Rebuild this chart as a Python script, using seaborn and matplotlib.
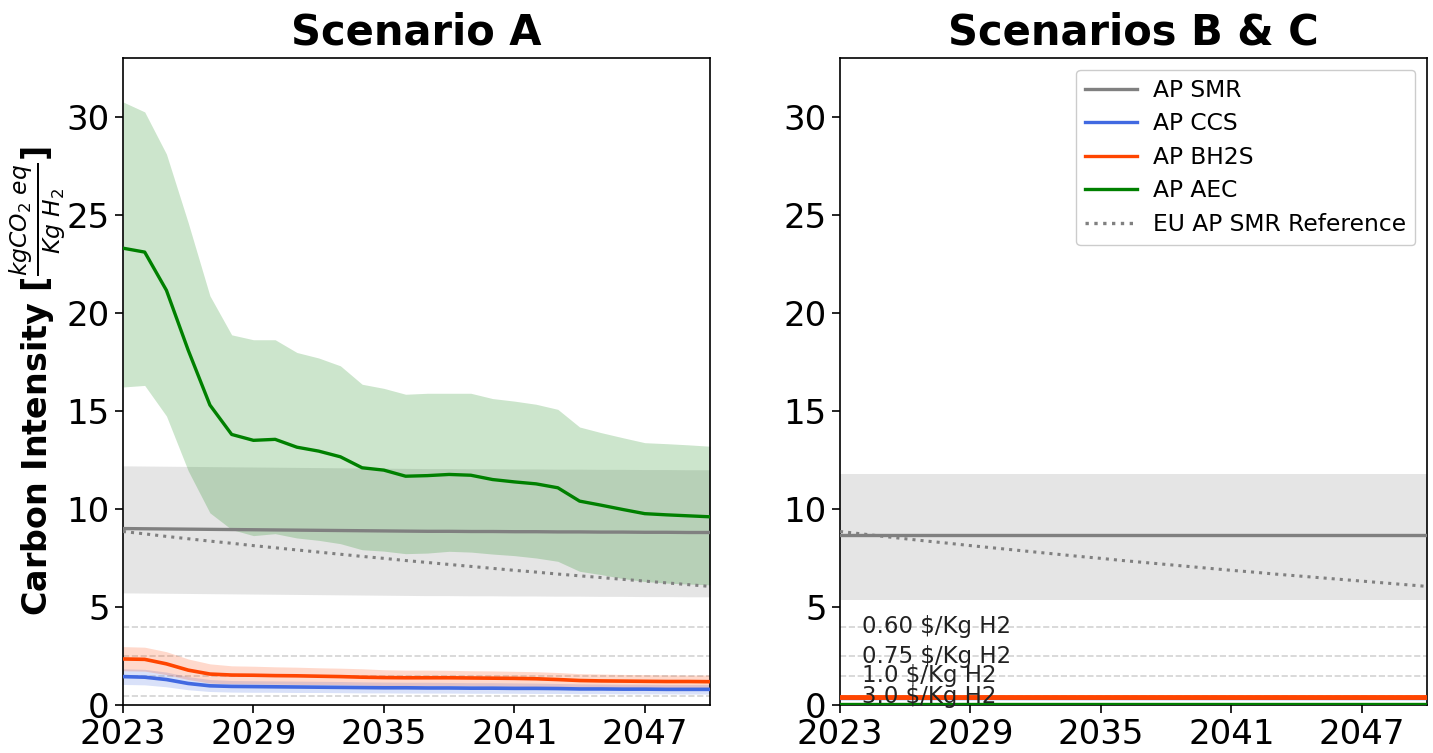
import matplotlib
matplotlib.use("Agg")
import matplotlib.pyplot as plt
import seaborn as sns
import pandas as pd

years = list(range(2023, 2051))

# ---- Scenario A ----
smr_a = [9.00, 8.99, 8.98, 8.97, 8.96, 8.95, 8.94, 8.93, 8.92, 8.91, 8.90, 8.89, 8.88, 8.87,
         8.86, 8.86, 8.85, 8.85, 8.84, 8.84, 8.83, 8.83, 8.82, 8.82, 8.81, 8.81, 8.80, 8.80]
smr_a_hi = [12.20, 12.19, 12.18, 12.17, 12.16, 12.15, 12.14, 12.13, 12.12, 12.11, 12.10, 12.09, 12.08, 12.07,
            12.06, 12.06, 12.05, 12.05, 12.04, 12.04, 12.03, 12.03, 12.02, 12.02, 12.01, 12.01, 12.00, 12.00]
smr_a_lo = [5.72, 5.71, 5.70, 5.69, 5.68, 5.67, 5.66, 5.65, 5.64, 5.63, 5.62, 5.61, 5.60, 5.59,
            5.58, 5.58, 5.57, 5.57, 5.56, 5.56, 5.55, 5.55, 5.54, 5.54, 5.53, 5.53, 5.52, 5.52]

aec_a = [23.30, 23.10, 21.15, 18.10, 15.30, 13.80, 13.50, 13.55, 13.15, 12.95, 12.66, 12.10, 11.98, 11.67,
         11.70, 11.76, 11.72, 11.50, 11.38, 11.28, 11.08, 10.40, 10.19, 9.97, 9.76, 9.70, 9.65, 9.60]
aec_a_hi = [30.76, 30.25, 28.10, 24.60, 20.87, 18.88, 18.63, 18.63, 17.98, 17.70, 17.30, 16.36, 16.15, 15.85,
            15.90, 15.90, 15.90, 15.63, 15.50, 15.34, 15.08, 14.18, 13.89, 13.63, 13.38, 13.33, 13.27, 13.20]
aec_a_lo = [16.22, 16.30, 14.74, 11.95, 9.80, 8.95, 8.64, 8.74, 8.52, 8.40, 8.23, 7.92, 7.85, 7.72,
            7.75, 7.84, 7.80, 7.70, 7.62, 7.50, 7.33, 6.82, 6.65, 6.45, 6.30, 6.22, 6.17, 6.13]

bh2s_a = [2.35, 2.33, 2.10, 1.78, 1.58, 1.53, 1.52, 1.50, 1.49, 1.47, 1.45, 1.42, 1.40, 1.39,
          1.39, 1.39, 1.38, 1.37, 1.36, 1.34, 1.30, 1.25, 1.23, 1.22, 1.21, 1.20, 1.20, 1.19]
bh2s_a_hi = [2.98, 2.95, 2.72, 2.35, 2.10, 2.00, 1.98, 1.95, 1.93, 1.90, 1.88, 1.85, 1.80, 1.78,
             1.78, 1.77, 1.75, 1.74, 1.72, 1.70, 1.66, 1.60, 1.58, 1.56, 1.55, 1.54, 1.53, 1.53]
bh2s_a_lo = [1.75, 1.73, 1.55, 1.30, 1.12, 1.08, 1.07, 1.06, 1.05, 1.04, 1.03, 1.01, 0.99, 0.98,
             0.98, 0.98, 0.97, 0.96, 0.95, 0.94, 0.92, 0.88, 0.87, 0.86, 0.86, 0.85, 0.85, 0.85]

ccs_a = [1.45, 1.42, 1.30, 1.10, 0.98, 0.95, 0.94, 0.93, 0.92, 0.91, 0.90, 0.89, 0.88, 0.88,
         0.87, 0.87, 0.86, 0.86, 0.85, 0.85, 0.84, 0.82, 0.82, 0.81, 0.81, 0.80, 0.80, 0.80]
ccs_a_hi = [1.85, 1.82, 1.68, 1.45, 1.30, 1.25, 1.24, 1.23, 1.22, 1.21, 1.20, 1.18, 1.17, 1.16,
            1.16, 1.15, 1.14, 1.14, 1.13, 1.12, 1.10, 1.08, 1.07, 1.06, 1.06, 1.05, 1.05, 1.05]
ccs_a_lo = [1.05, 1.03, 0.93, 0.78, 0.69, 0.66, 0.65, 0.65, 0.64, 0.64, 0.63, 0.62, 0.62, 0.61,
            0.61, 0.61, 0.60, 0.60, 0.60, 0.59, 0.59, 0.58, 0.58, 0.57, 0.57, 0.57, 0.56, 0.56]

eu_ref = [8.85, 8.73, 8.60, 8.48, 8.36, 8.25, 8.13, 8.02, 7.91, 7.80, 7.69, 7.58, 7.48, 7.37,
          7.27, 7.17, 7.07, 6.97, 6.87, 6.78, 6.68, 6.59, 6.50, 6.41, 6.32, 6.23, 6.14, 6.05]

# ---- Scenarios B & C (flat lines) ----
smr_b = [8.65] * len(years)
smr_b_hi = [11.80] * len(years)
smr_b_lo = [5.38] * len(years)
ccs_b = [0.36] * len(years)
bh2s_b = [0.40] * len(years)
bh2s_b_hi = [0.46] * len(years)
bh2s_b_lo = [0.34] * len(years)
aec_b = [0.03] * len(years)

# price thresholds
price_levels = [4.0, 2.5, 1.5, 0.45]
price_labels = ["0.60 \\$/Kg H2", "0.75 \\$/Kg H2", "1.0 \\$/Kg H2", "3.0 \\$/Kg H2"]

xticks = [2023, 2029, 2035, 2041, 2047]
yticks = [0, 5, 10, 15, 20, 25, 30]

c_smr, c_ccs, c_bh2s, c_aec = "gray", "royalblue", "orangered", "green"

fig = plt.figure(figsize=(14.33, 7.53), dpi=100)
axA = fig.add_axes([0.0858, 0.0637, 0.4097, 0.8593])
axB = fig.add_axes([0.5862, 0.0637, 0.4097, 0.8593])

def style_axis(ax, title):
    ax.set_xlim(2023, 2050)
    ax.set_ylim(0, 33)
    ax.set_xticks(xticks)
    ax.set_xticklabels([str(t) for t in xticks])
    ax.set_yticks(yticks)
    ax.tick_params(axis="both", labelsize=24.5, length=6, width=1.2)
    ax.set_title(title, fontsize=30, fontweight="bold", pad=10)
    ax.set_xlabel("")
    for s in ax.spines.values():
        s.set_color("black")
        s.set_linewidth(1.2)

for lvl in price_levels:
    for ax in (axA, axB):
        ax.axhline(lvl, color="lightgray", linestyle="--", linewidth=1.2, zorder=1)

# Scenario A bands
axA.fill_between(years, smr_a_lo, smr_a_hi, color=c_smr, alpha=0.2, linewidth=0, zorder=2)
axA.fill_between(years, aec_a_lo, aec_a_hi, color=c_aec, alpha=0.2, linewidth=0, zorder=2)
axA.fill_between(years, ccs_a_lo, ccs_a_hi, color=c_ccs, alpha=0.2, linewidth=0, zorder=2)
axA.fill_between(years, bh2s_a_lo, bh2s_a_hi, color=c_bh2s, alpha=0.2, linewidth=0, zorder=2)

sns.lineplot(x=years, y=smr_a, ax=axA, color=c_smr, linewidth=2.4, zorder=3)
sns.lineplot(x=years, y=ccs_a, ax=axA, color=c_ccs, linewidth=2.6, zorder=3)
sns.lineplot(x=years, y=bh2s_a, ax=axA, color=c_bh2s, linewidth=2.6, zorder=3)
sns.lineplot(x=years, y=aec_a, ax=axA, color=c_aec, linewidth=2.4, zorder=3)
sns.lineplot(x=years, y=eu_ref, ax=axA, color=c_smr, linewidth=2.2, linestyle=":", zorder=3)

# Scenario B & C
axB.fill_between(years, smr_b_lo, smr_b_hi, color=c_smr, alpha=0.2, linewidth=0, zorder=2)
axB.fill_between(years, bh2s_b_lo, bh2s_b_hi, color=c_bh2s, alpha=0.2, linewidth=0, zorder=2)
sns.lineplot(x=years, y=smr_b, ax=axB, color=c_smr, linewidth=2.4, label="AP SMR", zorder=3)
sns.lineplot(x=years, y=ccs_b, ax=axB, color=c_ccs, linewidth=2.4, label="AP CCS", zorder=3)
sns.lineplot(x=years, y=bh2s_b, ax=axB, color=c_bh2s, linewidth=3.5, label="AP BH2S", zorder=3)
sns.lineplot(x=years, y=aec_b, ax=axB, color=c_aec, linewidth=2.4, label="AP AEC", zorder=3)
sns.lineplot(x=years, y=eu_ref, ax=axB, color=c_smr, linewidth=2.2, linestyle=":",
             label="EU AP SMR Reference", zorder=3)

for lvl, lab in zip(price_levels, price_labels):
    axB.text(2024, lvl, lab, fontsize=16.5, va="center", ha="left", color="#222222", zorder=4)

style_axis(axA, "Scenario A")
style_axis(axB, "Scenarios B & C")

axA.set_ylabel(r"Carbon Intensity [$\frac{kgCO_2\ eq}{Kg\ H_2}$]", fontsize=24,
               fontweight="bold", labelpad=-1)
axB.set_ylabel("")

leg = axB.legend(loc="upper right", fontsize=16.8, framealpha=1.0, handlelength=2.2,
                 handletextpad=0.7, labelspacing=0.45)
for h in leg.get_lines():
    h.set_linewidth(2.4)

fig.savefig("out.png", dpi=100)
